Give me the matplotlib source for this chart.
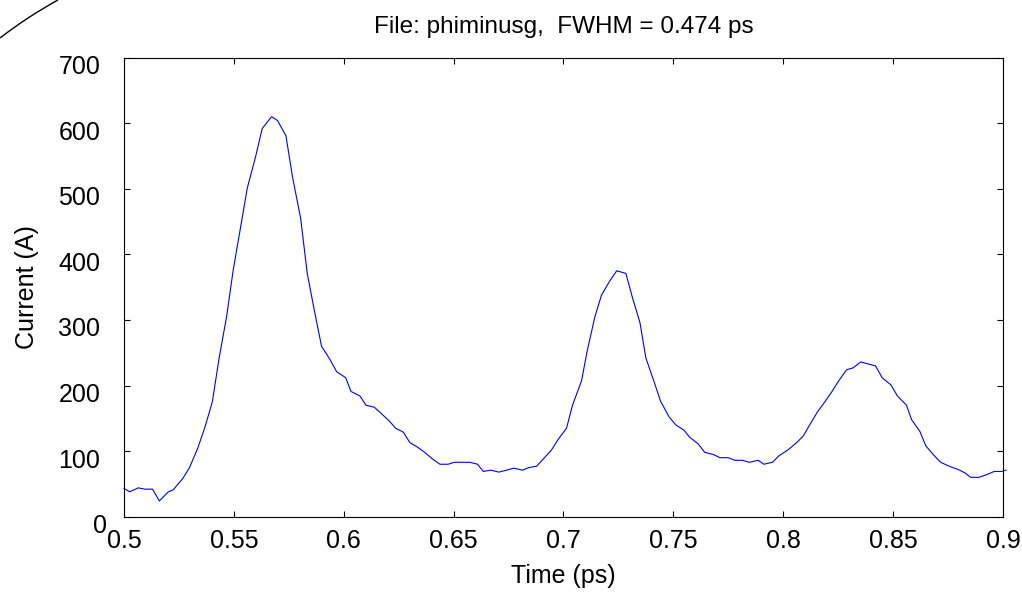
import matplotlib
matplotlib.use('Agg')
import matplotlib.pyplot as plt
import matplotlib.transforms as mtransforms
from matplotlib.path import Path
from matplotlib.patches import PathPatch

# current trace (time in ps, current in A)
time_ps = [
    0.5000, 0.5027, 0.5065, 0.5096, 0.5130, 0.5161, 0.5202, 0.5224, 0.5267, 0.5297,
    0.5334, 0.5369, 0.5402, 0.5434, 0.5467, 0.5497, 0.5531, 0.5561, 0.5599, 0.5629,
    0.5672, 0.5699, 0.5737, 0.5767, 0.5804, 0.5834, 0.5866, 0.5899, 0.5937, 0.5968,
    0.6009, 0.6033, 0.6074, 0.6101, 0.6139, 0.6172, 0.6207, 0.6236, 0.6271, 0.6301,
    0.6332, 0.6365, 0.6404, 0.6438, 0.6475, 0.6503, 0.6536, 0.6574, 0.6609, 0.6635,
    0.6669, 0.6706, 0.6741, 0.6774, 0.6814, 0.6843, 0.6878, 0.6911, 0.6946, 0.6976,
    0.7014, 0.7041, 0.7082, 0.7108, 0.7143, 0.7173, 0.7208, 0.7242, 0.7284, 0.7314,
    0.7348, 0.7375, 0.7412, 0.7442, 0.7481, 0.7511, 0.7548,
    0.7575, 0.7613, 0.7643, 0.7681, 0.7712, 0.7749, 0.7780, 0.7815, 0.7845, 0.7886,
    0.7912, 0.7951, 0.7981, 0.8022, 0.8061, 0.8091, 0.8124, 0.8156, 0.8189, 0.8220,
    0.8254, 0.8288, 0.8318, 0.8353, 0.8386, 0.8420, 0.8450, 0.8490, 0.8520, 0.8561,
    0.8584, 0.8622, 0.8649, 0.8682, 0.8716, 0.8755, 0.8796, 0.8826, 0.8853, 0.8890,
    0.8925, 0.8960, 0.8993, 0.9013,
]
current_a = [
    43, 38, 44, 42, 42, 24, 38, 41, 58, 74,
    103, 137, 175, 244, 305, 376, 442, 501, 549, 592,
    610, 604, 581, 518, 455, 371, 315, 260, 240, 221,
    212, 191, 184, 170, 167, 157, 146, 135, 129, 113,
    107, 99, 88, 80, 80, 83, 83, 83, 80, 69,
    71, 68, 71, 74, 71, 75, 77, 89, 102, 118,
    135, 170, 207, 253, 305, 338, 358, 375, 371, 334,
    296, 242, 206, 176, 152, 140, 132,
    121, 111, 98, 95, 90, 90, 86, 86, 83, 86,
    80, 83, 93, 102, 113, 123, 142, 160, 175, 190,
    208, 224, 227, 236, 233, 230, 212, 201, 184, 170,
    148, 130, 108, 95, 83, 77, 72, 67, 60, 60,
    64, 69, 69, 71,
]

x_ticks = [0.5, 0.55, 0.6, 0.65, 0.7, 0.75, 0.8, 0.85, 0.9]
x_ticklabels = ['0.5', '0.55', '0.6', '0.65', '0.7', '0.75', '0.8', '0.85', '0.9']
y_ticks = [0, 100, 200, 300, 400, 500, 600, 700]

plt.rcParams['font.family'] = ['Liberation Sans', 'DejaVu Sans']

fig = plt.figure(figsize=(10.22, 5.97), dpi=100)
ax = fig.add_axes([0.1213, 0.1345, 0.8601, 0.7689])

ax.plot(time_ps, current_a, color='#0000ff', lw=0.8, clip_on=False)

ax.set_xlim(0.5, 0.9)
ax.set_ylim(0, 700)
ax.set_xticks(x_ticks)
ax.set_xticklabels(x_ticklabels)
ax.set_yticks(y_ticks)

ax.tick_params(direction='in', top=True, right=True, length=4.5, width=0.8, labelsize=18)
ax.tick_params(axis='x', pad=9)
ax.tick_params(axis='y', pad=17)
for sp in ax.spines.values():
    sp.set_linewidth(0.8)

# MATLAB-style y labels sit a little low, and the "0" drifts right
shift = mtransforms.ScaledTranslation(0, -5 / 72, fig.dpi_scale_trans)
zero_shift = mtransforms.ScaledTranslation(5 / 72, 0, fig.dpi_scale_trans)
for i, lab in enumerate(ax.get_yticklabels()):
    tr = lab.get_transform() + shift
    if i == 0:
        tr = tr + zero_shift
    lab.set_transform(tr)

ax.set_xlabel('Time (ps)', fontsize=18, labelpad=8)
ax.set_ylabel('Current (A)', fontsize=18, labelpad=14)
ax.set_title('File: phiminusg,  FWHM = 0.474 ps', fontsize=17.5, pad=18)

# stray arc in the top-left corner
verts = [(0.0, 1 - 38 / 597), (27 / 1022, 1 - 17 / 597), (58 / 1022, 1.0)]
arc = PathPatch(Path(verts, [Path.MOVETO, Path.CURVE3, Path.CURVE3]),
                transform=fig.transFigure, fill=False, lw=1.0, color='black')
fig.patches.append(arc)

fig.savefig('out.png', dpi=100)
